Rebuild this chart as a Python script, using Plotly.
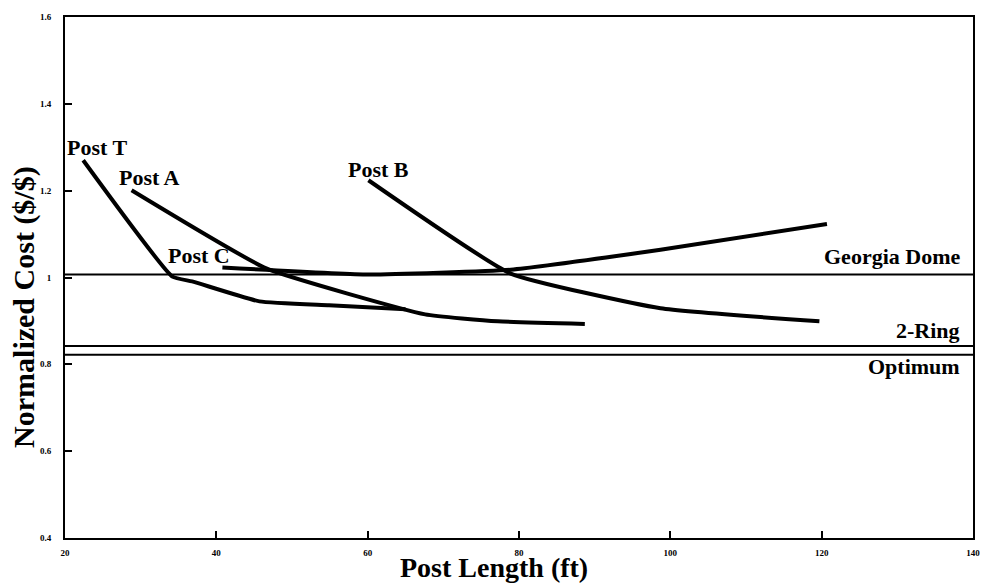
import plotly.graph_objects as go

# Data
post_t_x = [22.4, 34.2, 36.8, 45.7, 54.9, 65.0]
post_t_y = [1.270, 1.002, 0.991, 0.945, 0.936, 0.927]

post_a_x = [28.8, 46.6, 67.6, 77.2, 88.7]
post_a_y = [1.201, 1.021, 0.915, 0.899, 0.893]

post_c_x = [40.8, 60.1, 78.9, 98.7, 120.7]
post_c_y = [1.023, 1.007, 1.018, 1.064, 1.123]

post_b_x = [60.1, 78.9, 98.7, 119.7]
post_b_y = [1.224, 1.009, 0.929, 0.899]

ref_names = ["Georgia Dome", "2-Ring", "Optimum"]
ref_values = [1.007, 0.842, 0.822]

x_ticks = [20, 40, 60, 80, 100, 120, 140]
y_ticks = [0.4, 0.6, 0.8, 1.0, 1.2, 1.4, 1.6]
y_tick_text = ["0.4", "0.6", "0.8", "1", "1.2", "1.4", "1.6"]

FONT = "Liberation Serif"

fig = go.Figure()

curves = [("Post T", post_t_x, post_t_y, -18, -2),
          ("Post A", post_a_x, post_a_y, -15, -2),
          ("Post C", post_c_x, post_c_y, -56, -2),
          ("Post B", post_b_x, post_b_y, -22, -4)]

for name, xs, ys, dx, dy in curves:
    fig.add_trace(go.Scatter(x=xs, y=ys, mode="lines",
                             line=dict(color="black", width=4, shape="spline", smoothing=0.4),
                             showlegend=False, hoverinfo="skip", name=name))
    fig.add_annotation(x=xs[0], y=ys[0], text=f"<b>{name}</b>", showarrow=False,
                       xanchor="left", yanchor="bottom", xshift=dx, yshift=dy,
                       font=dict(family=FONT, size=22, color="black"))

for name, v in zip(ref_names, ref_values):
    fig.add_trace(go.Scatter(x=[20, 140], y=[v, v], mode="lines",
                             line=dict(color="black", width=2),
                             showlegend=False, hoverinfo="skip", name=name))

# Reference line labels
ref_label_pos = [(3, "bottom"), (1, "bottom"), (3, "top")]
for name, v, (dy, ya) in zip(ref_names, ref_values, ref_label_pos):
    fig.add_annotation(x=138.5, y=v, text=f"<b>{name}</b>", showarrow=False,
                       xanchor="right", yanchor=ya, yshift=dy,
                       font=dict(family=FONT, size=22, color="black"))

# Axis titles
fig.add_annotation(xref="paper", yref="paper", x=0.473, y=-0.057,
                   text="<b>Post Length (ft)</b>", showarrow=False,
                   xanchor="center", yanchor="middle",
                   font=dict(family=FONT, size=28, color="black"))
fig.add_annotation(xref="paper", yref="paper", x=-0.046, y=0.444,
                   text="<b>Normalized Cost ($/$)</b>", showarrow=False, textangle=-90,
                   xanchor="center", yanchor="middle",
                   font=dict(family=FONT, size=30, color="black"))

fig.update_xaxes(range=[20, 140], tickvals=x_ticks, ticks="inside", ticklen=7, tickwidth=2,
                 tickcolor="black", showline=True, linecolor="black", linewidth=2,
                 mirror=True, showgrid=False, zeroline=False,
                 tickfont=dict(family=FONT, size=9, color="black", weight="bold"),
                 ticklabelstandoff=5)
fig.update_yaxes(range=[0.4, 1.6], tickvals=y_ticks, ticktext=y_tick_text, ticks="inside",
                 ticklen=7, tickwidth=2, tickcolor="black", showline=True, linecolor="black",
                 linewidth=2, mirror=True, showgrid=False, zeroline=False,
                 tickfont=dict(family=FONT, size=9, color="black", weight="bold"),
                 ticklabelstandoff=10)

fig.update_layout(width=992, height=588, paper_bgcolor="white", plot_bgcolor="white",
                  margin=dict(l=65, r=15, t=13, b=50), showlegend=False)

fig.write_html("out.html")
